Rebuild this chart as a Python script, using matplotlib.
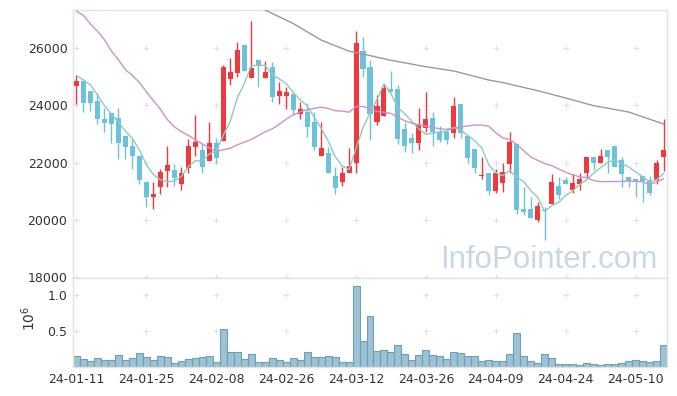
import matplotlib.pyplot as plt
import numpy as np
import pandas as pd

tick_labels = ['24-01-11', '24-01-25', '24-02-08', '24-02-26', '24-03-12',
               '24-03-26', '24-04-09', '24-04-24', '24-05-10']
tick_pos = [0, 10, 20, 30, 40, 50, 60, 70, 80]

opens = [24690, 24850, 24500, 24150, 23520, 23720, 23560, 22930, 22580, 22230,
         21320, 20780, 21150, 21710, 21730, 21240, 21820, 22550, 22440, 22060,
         22670, 22760, 24920, 25150, 26110, 24970, 25590, 24970, 25340, 24340,
         24340, 24400, 23710, 23770, 23420, 22240, 22320, 21530, 21300, 21620,
         21990, 25920, 25360, 23430, 23640, 24570, 24570, 23170, 22860, 22670,
         23200, 23550, 23080, 23080, 23020, 24040, 22930, 22470, 21520, 21630,
         21010, 21270, 21960, 22650, 20370, 20370, 19990, 20330, 20540, 21180,
         21380, 21050, 21260, 21640, 22190, 21980, 22440, 22580, 22080, 21480,
         21420, 21530, 21380, 21380, 22200]
highs = [25060, 24890, 24500, 24440, 23900, 23720, 23900, 22930, 22850, 22230,
         21350, 21300, 21770, 22580, 21960, 21850, 22810, 23650, 22670, 23410,
         22870, 25410, 25650, 26230, 26150, 26960, 25590, 25570, 25510, 24830,
         24630, 24400, 24130, 24100, 23780, 23410, 22530, 21850, 21850, 22500,
         26610, 26410, 25590, 24360, 24710, 25200, 24710, 23410, 23020, 23900,
         24460, 23780, 23290, 23220, 24300, 24040, 22930, 22470, 22200, 21630,
         21770, 22000, 23080, 22650, 21130, 20800, 20610, 20450, 21610, 21480,
         21500, 21610, 21640, 22190, 22190, 22470, 22440, 22580, 22180, 21480,
         21420, 21530, 21530, 22090, 23510]
lows = [24040, 23780, 23800, 23350, 23080, 22670, 22110, 22110, 21780, 21250,
        20430, 20370, 20900, 21150, 21180, 21030, 21620, 22240, 21620, 22060,
        21970, 22760, 24700, 25000, 25200, 24970, 24630, 24970, 24130, 24040,
        23870, 23660, 23520, 22900, 22440, 22240, 21640, 20900, 21180, 21620,
        21620, 24980, 22790, 23310, 23640, 24460, 22650, 22360, 22320, 22440,
        23080, 22580, 22730, 22650, 22850, 22850, 22000, 21640, 21420, 20850,
        20920, 20960, 21620, 20200, 20160, 20060, 19910, 19290, 20540, 20710,
        21260, 20940, 21050, 21480, 21740, 21980, 21640, 21850, 21130, 21130,
        20800, 20630, 20860, 21240, 21710]
closes = [24850, 24100, 24100, 23510, 23400, 23360, 22670, 22550, 22240, 21390,
          20780, 20910, 21660, 21910, 21470, 21620, 22580, 22730, 21850, 22700,
          22150, 25330, 25170, 25940, 25200, 25310, 25390, 25170, 24300, 24500,
          24470, 23840, 23870, 23250, 22550, 22500, 21640, 21120, 21630, 21880,
          26200, 25270, 23710, 23980, 24620, 24460, 22830, 22590, 22690, 23310,
          23510, 23060, 22790, 22790, 23980, 23020, 22170, 21820, 21570, 21010,
          21630, 21670, 22730, 20350, 20280, 20060, 20490, 20300, 21320, 20860,
          21260, 21280, 21420, 22190, 21980, 22230, 22200, 21850, 21610, 21350,
          21350, 21350, 20940, 22000, 22440]
# volume in millions of shares
volumes = [0.152, 0.111, 0.083, 0.124, 0.097, 0.097, 0.166, 0.097, 0.124, 0.194,
           0.138, 0.097, 0.152, 0.138, 0.055, 0.083, 0.111, 0.124, 0.138, 0.152,
           0.069, 0.525, 0.207, 0.207, 0.111, 0.180, 0.069, 0.069, 0.124, 0.097,
           0.069, 0.124, 0.097, 0.207, 0.138, 0.138, 0.152, 0.138, 0.069, 0.069,
           1.124, 0.364, 0.705, 0.221, 0.235, 0.207, 0.304, 0.180, 0.097, 0.166,
           0.235, 0.166, 0.152, 0.111, 0.207, 0.194, 0.152, 0.152, 0.083, 0.097,
           0.083, 0.083, 0.180, 0.470, 0.152, 0.083, 0.055, 0.180, 0.124, 0.041,
           0.041, 0.041, 0.028, 0.055, 0.041, 0.028, 0.041, 0.041, 0.055, 0.083,
           0.097, 0.083, 0.069, 0.083, 0.304]

# closes before the first shown day (estimated from the MA5 line)
prev_closes = [24850, 24980, 25260, 25270]
# MA20 for the first 19 days
ma20_early = [27300, 27150, 26850, 26600, 26300, 25900, 25600, 25250, 25050, 24800,
              24480, 24170, 23870, 23500, 23250, 23080, 22950, 22800, 22650]
# long moving average (gray), read at a few days
ma_long_idx = [27, 31, 35, 39, 41, 45, 50, 54, 59, 61, 66, 70, 74, 79, 84]
ma_long_val = [27340, 26870, 26290, 25900, 25800, 25580, 25355, 25205, 24890, 24800,
               24515, 24260, 23990, 23770, 23350]

up_color = '#f0393d'
down_color = '#6cc2d8'

n = len(closes)
x = np.arange(n)
o = np.array(opens)
c = np.array(closes)
colors = [up_color if c[i] >= o[i] else down_color for i in range(n)]

ma5 = pd.Series(prev_closes + closes).rolling(5).mean().values[4:]
ma20 = pd.Series(closes).rolling(20).mean().values
ma20[:19] = ma20_early

fig = plt.figure(figsize=(6.77, 3.96), dpi=100)
ax = fig.add_axes([73 / 677, 118 / 396, 594 / 677, 268 / 396])
axv = fig.add_axes([73 / 677, 29 / 396, 594 / 677, 89 / 396], sharex=ax)

# candles
body_low = np.minimum(o, c)
body_h = np.maximum(np.abs(c - o), 40)
ax.vlines(x, lows, highs, colors=colors, linewidth=1.0, zorder=2)
ax.bar(x, body_h, bottom=body_low, width=0.72, color=colors, linewidth=0, zorder=3)

# moving averages
ax.plot(x, ma5, color='#8ccbc2', linewidth=1.0, zorder=4)
ax.plot(x, ma20, color='#cc93ca', linewidth=1.0, zorder=4)
ax.plot(ma_long_idx, ma_long_val, color='#9a9a9a', linewidth=1.0, zorder=4)

ax.set_xlim(-0.5, n - 0.5)
ax.set_ylim(17955, 27342)
yt = [18000, 20000, 22000, 24000, 26000]
ax.set_yticks(yt)
ax.set_yticklabels([str(v) for v in yt])

# volume bars
axv.bar(x, volumes, width=1.0, color='#9cc2d3', edgecolor='#6e9fb6', linewidth=0.8, zorder=2)
axv.set_ylim(0, 1.235)
axv.set_yticks([0.5, 1.0])
axv.set_yticklabels(['0.5', '1.0'])
axv.set_xticks(tick_pos)
axv.set_xticklabels(tick_labels)
axv.text(-0.075, 0.55, '$10^6$', transform=axv.transAxes, rotation=90,
         ha='center', va='center', fontsize=10, color='#333333')

# grid crosses
for a, ys in ((ax, yt), (axv, [0.5, 1.0])):
    gx, gy = np.meshgrid(tick_pos, ys)
    a.scatter(gx.ravel(), gy.ravel(), marker='+', s=16, color='#e2e2e2', linewidths=0.8, zorder=1)
    for s in a.spines.values():
        s.set_color('#e3e3e3')
        s.set_linewidth(1.0)
    a.tick_params(length=0, labelsize=9, colors='#333333', pad=4)
    a.set_facecolor('white')

ax.tick_params(labelbottom=False)

ax.text(0.984, 0.037, 'InfoPointer.com', transform=ax.transAxes, ha='right', va='baseline',
        fontsize=22.5, family=['Liberation Sans', 'DejaVu Sans'], color='#c5d9e4', zorder=0)

fig.savefig('out.png', dpi=100)
